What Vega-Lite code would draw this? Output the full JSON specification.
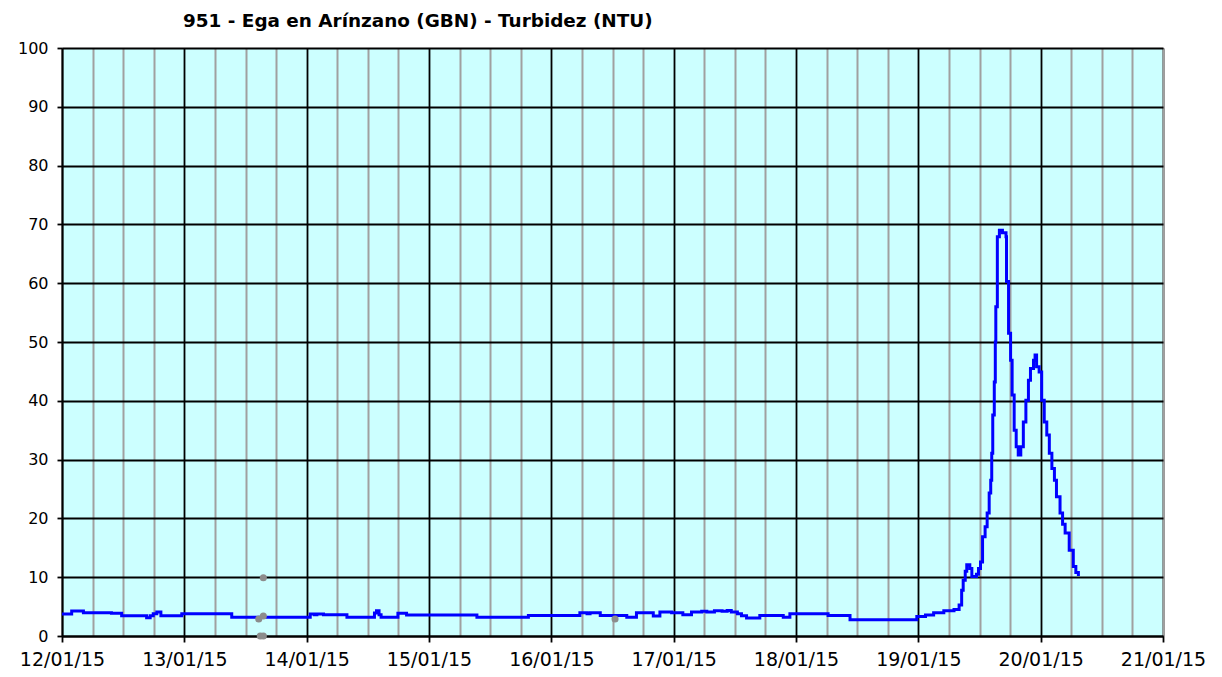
{
  "$schema": "https://vega.github.io/schema/vega-lite/v6.json",
  "width": 1101,
  "height": 588,
  "autosize": {"type": "none"},
  "padding": {"left": 62, "top": 48, "right": 59, "bottom": 41},
  "background": "white",
  "title": {
    "text": "951 - Ega en Arínzano (GBN) - Turbidez (NTU)",
    "anchor": "start",
    "frame": "group",
    "dx": 121,
    "offset": 10,
    "font": "DejaVu Sans",
    "fontSize": 18.4,
    "fontWeight": "bold",
    "color": "black"
  },
  "config": {
    "view": {"fill": "#CCFFFF", "stroke": null},
    "axis": {"labelFont": "DejaVu Sans", "labelColor": "black", "titleFont": "DejaVu Sans"}
  },
  "datasets": {
    "serie": [
      {"t": "2015-01-12T00:00", "v": 3.74},
      {"t": "2015-01-12T01:54", "v": 4.25},
      {"t": "2015-01-12T04:12", "v": 3.97},
      {"t": "2015-01-12T09:42", "v": 3.85},
      {"t": "2015-01-12T11:42", "v": 3.46},
      {"t": "2015-01-12T16:36", "v": 3.1},
      {"t": "2015-01-12T17:18", "v": 3.46},
      {"t": "2015-01-12T17:54", "v": 3.8},
      {"t": "2015-01-12T18:36", "v": 4.1},
      {"t": "2015-01-12T19:24", "v": 3.46},
      {"t": "2015-01-12T23:30", "v": 3.8},
      {"t": "2015-01-13T09:18", "v": 3.17},
      {"t": "2015-01-14T00:42", "v": 3.75},
      {"t": "2015-01-14T01:30", "v": 3.6},
      {"t": "2015-01-14T02:00", "v": 3.75},
      {"t": "2015-01-14T03:18", "v": 3.6},
      {"t": "2015-01-14T07:54", "v": 3.17},
      {"t": "2015-01-14T13:18", "v": 3.9},
      {"t": "2015-01-14T13:42", "v": 4.3},
      {"t": "2015-01-14T14:12", "v": 3.6},
      {"t": "2015-01-14T14:36", "v": 3.17},
      {"t": "2015-01-14T17:54", "v": 3.85},
      {"t": "2015-01-14T19:36", "v": 3.57},
      {"t": "2015-01-15T09:24", "v": 3.17},
      {"t": "2015-01-15T19:30", "v": 3.5},
      {"t": "2015-01-16T05:36", "v": 3.97},
      {"t": "2015-01-16T07:00", "v": 3.8},
      {"t": "2015-01-16T07:36", "v": 3.97},
      {"t": "2015-01-16T09:36", "v": 3.5},
      {"t": "2015-01-16T14:48", "v": 3.17},
      {"t": "2015-01-16T16:42", "v": 3.97},
      {"t": "2015-01-16T20:00", "v": 3.4},
      {"t": "2015-01-16T21:18", "v": 4.1},
      {"t": "2015-01-16T23:36", "v": 3.97},
      {"t": "2015-01-17T01:48", "v": 3.6},
      {"t": "2015-01-17T03:30", "v": 4.08},
      {"t": "2015-01-17T05:30", "v": 4.2},
      {"t": "2015-01-17T06:30", "v": 4.08},
      {"t": "2015-01-17T08:00", "v": 4.3},
      {"t": "2015-01-17T09:30", "v": 4.2},
      {"t": "2015-01-17T10:30", "v": 4.35},
      {"t": "2015-01-17T11:18", "v": 4.08},
      {"t": "2015-01-17T12:30", "v": 3.8},
      {"t": "2015-01-17T13:18", "v": 3.46},
      {"t": "2015-01-17T14:18", "v": 3.06},
      {"t": "2015-01-17T16:54", "v": 3.5},
      {"t": "2015-01-17T21:30", "v": 3.17},
      {"t": "2015-01-17T22:48", "v": 3.8},
      {"t": "2015-01-18T06:18", "v": 3.5},
      {"t": "2015-01-18T10:36", "v": 2.78},
      {"t": "2015-01-18T23:42", "v": 3.3},
      {"t": "2015-01-19T01:24", "v": 3.57},
      {"t": "2015-01-19T03:00", "v": 3.97},
      {"t": "2015-01-19T05:00", "v": 4.3},
      {"t": "2015-01-19T07:00", "v": 4.5},
      {"t": "2015-01-19T08:00", "v": 5.27},
      {"t": "2015-01-19T08:30", "v": 7.8},
      {"t": "2015-01-19T08:48", "v": 9.5},
      {"t": "2015-01-19T09:12", "v": 11.0},
      {"t": "2015-01-19T09:30", "v": 12.1},
      {"t": "2015-01-19T10:06", "v": 11.5},
      {"t": "2015-01-19T10:30", "v": 10.1},
      {"t": "2015-01-19T11:24", "v": 10.5},
      {"t": "2015-01-19T11:48", "v": 11.5},
      {"t": "2015-01-19T12:12", "v": 12.6},
      {"t": "2015-01-19T12:36", "v": 16.9},
      {"t": "2015-01-19T13:06", "v": 18.6},
      {"t": "2015-01-19T13:30", "v": 20.9},
      {"t": "2015-01-19T13:54", "v": 24.3},
      {"t": "2015-01-19T14:12", "v": 26.5},
      {"t": "2015-01-19T14:24", "v": 31.1},
      {"t": "2015-01-19T14:36", "v": 37.6},
      {"t": "2015-01-19T14:54", "v": 43.2},
      {"t": "2015-01-19T15:06", "v": 50.0},
      {"t": "2015-01-19T15:12", "v": 56.0},
      {"t": "2015-01-19T15:30", "v": 67.9},
      {"t": "2015-01-19T15:54", "v": 69.0},
      {"t": "2015-01-19T16:30", "v": 68.6},
      {"t": "2015-01-19T17:12", "v": 67.9},
      {"t": "2015-01-19T17:18", "v": 60.3},
      {"t": "2015-01-19T17:42", "v": 51.5},
      {"t": "2015-01-19T18:06", "v": 46.9},
      {"t": "2015-01-19T18:24", "v": 41.0},
      {"t": "2015-01-19T18:48", "v": 35.0},
      {"t": "2015-01-19T19:12", "v": 32.2},
      {"t": "2015-01-19T19:36", "v": 30.8},
      {"t": "2015-01-19T20:06", "v": 32.2},
      {"t": "2015-01-19T20:36", "v": 36.4},
      {"t": "2015-01-19T21:06", "v": 40.1},
      {"t": "2015-01-19T21:36", "v": 43.5},
      {"t": "2015-01-19T22:00", "v": 45.5},
      {"t": "2015-01-19T22:36", "v": 46.9},
      {"t": "2015-01-19T22:54", "v": 47.8},
      {"t": "2015-01-19T23:12", "v": 45.8},
      {"t": "2015-01-19T23:42", "v": 44.9},
      {"t": "2015-01-20T00:12", "v": 40.1},
      {"t": "2015-01-20T00:42", "v": 36.4},
      {"t": "2015-01-20T01:12", "v": 34.2},
      {"t": "2015-01-20T01:42", "v": 31.1},
      {"t": "2015-01-20T02:12", "v": 28.5},
      {"t": "2015-01-20T02:42", "v": 26.5},
      {"t": "2015-01-20T03:06", "v": 23.7},
      {"t": "2015-01-20T03:48", "v": 20.9},
      {"t": "2015-01-20T04:18", "v": 19.0},
      {"t": "2015-01-20T04:48", "v": 17.5},
      {"t": "2015-01-20T05:36", "v": 14.6},
      {"t": "2015-01-20T06:24", "v": 11.8},
      {"t": "2015-01-20T06:54", "v": 10.8},
      {"t": "2015-01-20T07:24", "v": 10.2}
    ],
    "invalidos": [
      {"t": "2015-01-13T14:36", "v": 2.9},
      {"t": "2015-01-13T15:30", "v": 3.4},
      {"t": "2015-01-13T15:30", "v": 9.9},
      {"t": "2015-01-13T14:54", "v": 0},
      {"t": "2015-01-13T15:30", "v": 0},
      {"t": "2015-01-16T12:30", "v": 2.9}
    ]
  },
  "layer": [
    {
      "data": {"name": "serie"},
      "mark": {"type": "line", "interpolate": "step-after", "color": "#0000FF", "strokeWidth": 3},
      "encoding": {
        "x": {
          "field": "t", "type": "temporal",
          "scale": {"domain": [{"year": 2015, "month": 1, "date": 12}, {"year": 2015, "month": 1, "date": 21}], "nice": false},
          "axis": {
            "values": [
              {"year": 2015, "month": 1, "date": 12},
              {"year": 2015, "month": 1, "date": 13},
              {"year": 2015, "month": 1, "date": 14},
              {"year": 2015, "month": 1, "date": 15},
              {"year": 2015, "month": 1, "date": 16},
              {"year": 2015, "month": 1, "date": 17},
              {"year": 2015, "month": 1, "date": 18},
              {"year": 2015, "month": 1, "date": 19},
              {"year": 2015, "month": 1, "date": 20},
              {"year": 2015, "month": 1, "date": 21}
            ],
            "format": "%d/%m/%y",
            "labelFontSize": 19,
            "labelPadding": 8,
            "labelFlush": false,
            "labelOverlap": false,
            "grid": true,
            "gridColor": "black",
            "gridWidth": 1.8,
            "domain": true, "domainColor": "black", "domainWidth": 1.8,
            "ticks": true, "tickColor": "black", "tickSize": 6, "tickWidth": 1.8,
            "title": null
          }
        },
        "y": {
          "field": "v", "type": "quantitative",
          "scale": {"domain": [0, 100], "nice": false},
          "axis": {
            "values": [0, 10, 20, 30, 40, 50, 60, 70, 80, 90, 100],
            "labelFontSize": 16,
            "labelPadding": 9,
            "grid": true, "gridColor": "black", "gridWidth": 1.8,
            "domain": true, "domainColor": "black", "domainWidth": 1.8,
            "ticks": true, "tickColor": "black", "tickSize": 5, "tickWidth": 1.8,
            "title": null
          }
        }
      }
    },
    {
      "data": {"name": "invalidos"},
      "mark": {"type": "circle", "color": "#8c8c8c", "size": 50, "opacity": 1, "clip": false},
      "encoding": {
        "x": {
          "field": "t", "type": "temporal",
          "axis": {
            "values": [
              {"year": 2015, "month": 1, "date": 12, "hours": 6},
              {"year": 2015, "month": 1, "date": 12, "hours": 12},
              {"year": 2015, "month": 1, "date": 12, "hours": 18},
              {"year": 2015, "month": 1, "date": 13, "hours": 6},
              {"year": 2015, "month": 1, "date": 13, "hours": 12},
              {"year": 2015, "month": 1, "date": 13, "hours": 18},
              {"year": 2015, "month": 1, "date": 14, "hours": 6},
              {"year": 2015, "month": 1, "date": 14, "hours": 12},
              {"year": 2015, "month": 1, "date": 14, "hours": 18},
              {"year": 2015, "month": 1, "date": 15, "hours": 6},
              {"year": 2015, "month": 1, "date": 15, "hours": 12},
              {"year": 2015, "month": 1, "date": 15, "hours": 18},
              {"year": 2015, "month": 1, "date": 16, "hours": 6},
              {"year": 2015, "month": 1, "date": 16, "hours": 12},
              {"year": 2015, "month": 1, "date": 16, "hours": 18},
              {"year": 2015, "month": 1, "date": 17, "hours": 6},
              {"year": 2015, "month": 1, "date": 17, "hours": 12},
              {"year": 2015, "month": 1, "date": 17, "hours": 18},
              {"year": 2015, "month": 1, "date": 18, "hours": 6},
              {"year": 2015, "month": 1, "date": 18, "hours": 12},
              {"year": 2015, "month": 1, "date": 18, "hours": 18},
              {"year": 2015, "month": 1, "date": 19, "hours": 6},
              {"year": 2015, "month": 1, "date": 19, "hours": 12},
              {"year": 2015, "month": 1, "date": 19, "hours": 18},
              {"year": 2015, "month": 1, "date": 20, "hours": 6},
              {"year": 2015, "month": 1, "date": 20, "hours": 12},
              {"year": 2015, "month": 1, "date": 20, "hours": 18},
              {"year": 2015, "month": 1, "date": 21}
            ],
            "grid": true, "gridColor": "#a0a0a0", "gridWidth": 2, "gridOpacity": 1,
            "labels": false, "ticks": false, "domain": false, "title": null
          }
        },
        "y": {"field": "v", "type": "quantitative"}
      }
    }
  ],
  "resolve": {"axis": {"x": "independent"}}
}
